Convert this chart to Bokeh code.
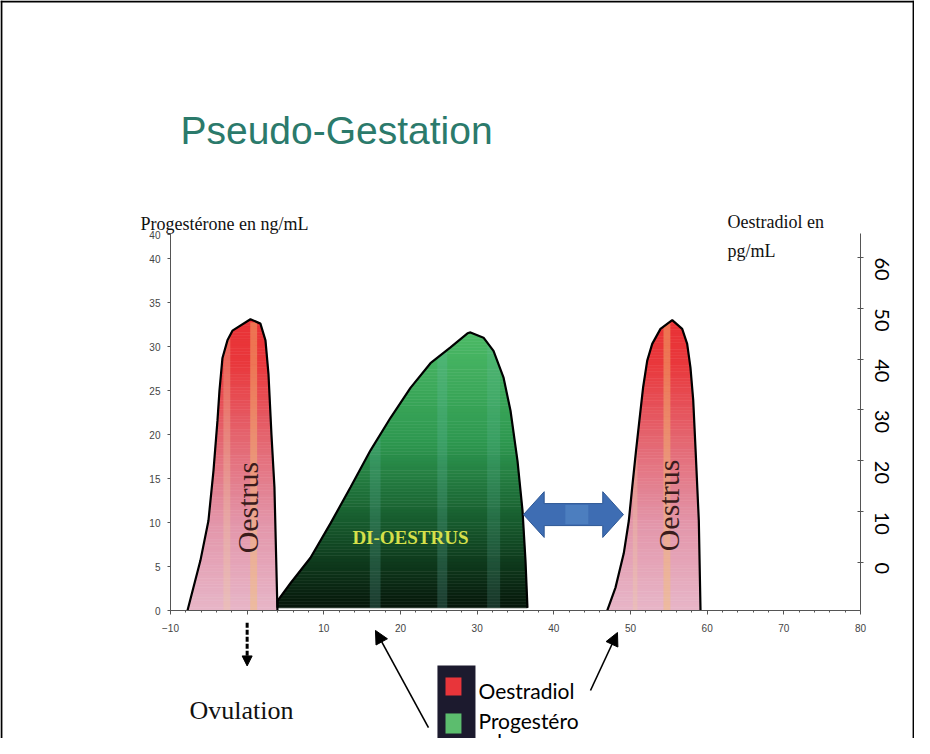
import math
import numpy as np
from bokeh.plotting import figure
from bokeh.models import Range1d, LinearAxis, FixedTicker, Arrow, NormalHead, Span
from bokeh.core.properties import value
from bokeh.embed import file_html
from bokeh.resources import INLINE

# ---------------- data ----------------
day_ticks = [-10, 0, 10, 20, 30, 40, 50, 60, 70, 80]
day_minor = list(range(-10, 81, 2))
prog_ticks = [0, 5, 10, 15, 20, 25, 30, 35, 40, 42.7]
prog_labels = {42.7: "40"}
oe_ticks = [0, 10, 20, 30, 40, 50, 60]

# Oestradiol peak 1 (outline, days / ng-scale of the left axis)
oe1_x = [-7.78, -6.09, -5.05, -4.39, -3.87, -3.61, -3.22, -2.57, -1.92, 0.43,
         1.73, 2.39, 2.78, 3.17, 3.56, 3.95]
oe1_y = [0.0, 5.7, 10.2, 15.9, 21.6, 25.0, 28.7, 30.7, 31.8, 33.1,
         32.6, 30.7, 26.9, 20.0, 14.0, 0.0]
# Oestradiol peak 2
oe2_x = [46.96, 48.04, 49.12, 49.78, 50.22, 50.70, 51.21, 51.65, 52.18, 52.83,
         53.91, 55.44, 56.74, 57.39, 57.82, 58.18, 58.50, 58.91, 59.13]
oe2_y = [0.0, 2.6, 6.5, 10.2, 14.0, 18.0, 22.0, 25.4, 28.4, 30.3,
         32.0, 33.0, 32.0, 30.3, 27.6, 23.9, 18.0, 10.2, 0.0]
# Progesterone (di-oestrus)
prog_x = [3.96, 3.96, 5.65, 8.26, 10.87, 13.48, 16.09, 18.70, 21.30, 23.91,
          26.52, 28.74, 29.13, 30.83, 32.13, 33.43, 34.35, 35.26, 35.91, 36.30, 36.56]
prog_y = [0.3, 1.1, 3.1, 6.0, 9.9, 14.0, 18.2, 21.9, 25.3, 28.1,
          29.9, 31.5, 31.6, 31.0, 29.5, 26.5, 22.7, 17.0, 11.4, 5.7, 0.3]

# ---------------- figure ----------------
W, H = 914, 738
X0, X1 = -32.17, 87.04
Y0, Y1 = -14.545, 69.318
p = figure(width=W, height=H, output_backend="svg", toolbar_location=None,
           x_range=Range1d(X0, X1), y_range=Range1d(Y0, Y1),
           min_border=0, background_fill_color="white", border_fill_color="white")
p.title.text = ""
p.extra_y_ranges = {"oe": Range1d(-34.63, 110.56)}
p.grid.visible = False
p.outline_line_color = None

SERIF = value("Liberation Serif")


def lerp_color(stops, t):
    for (t0, c0), (t1, c1) in zip(stops[:-1], stops[1:]):
        if t <= t1:
            f = 0 if t1 == t0 else (t - t0) / (t1 - t0)
            c = [int(round(a + (b - a) * f)) for a, b in zip(c0, c1)]
            return "#%02x%02x%02x" % tuple(c)
    return "#%02x%02x%02x" % tuple(stops[-1][1])


def gradient_fill(xs, ys, stops, n=90, stripes=()):
    xs = np.asarray(xs, float)
    ys = np.asarray(ys, float)
    k = int(np.argmax(ys))
    lx, ly = xs[:k + 1], ys[:k + 1]
    rx, ry = xs[k:][::-1], ys[k:][::-1]
    ymin, ymax = min(ly[0], ry[0]), ys[k]
    edges = np.linspace(ymin, ymax, n + 1)
    L = np.interp(edges, ly, lx)
    R = np.interp(edges, ry, rx)
    qx, qy, cols = [], [], []
    for i in range(n):
        qx.append([L[i], R[i], R[i + 1], L[i + 1]])
        qy.append([edges[i], edges[i], edges[i + 1], edges[i + 1]])
        cols.append(lerp_color(stops, (0.5 * (edges[i] + edges[i + 1]) - ymin) / (ymax - ymin)))
    p.patches(qx, qy, fill_color=cols, line_color=cols, line_width=0.6)
    for (s0, s1, col, a) in stripes:
        sx, sy = [], []
        for i in range(n):
            a0, a1 = max(L[i], s0), min(R[i], s1)
            b0, b1 = max(L[i + 1], s0), min(R[i + 1], s1)
            if a1 > a0 and b1 > b0:
                sx.append([a0, a1, b1, b0])
                sy.append([edges[i], edges[i], edges[i + 1], edges[i + 1]])
        if sx:
            p.patches(sx, sy, fill_color=col, fill_alpha=a, line_color=None)
    p.line(list(xs), list(ys), line_color="black", line_width=2.2)


red_stops = [(0.0, (231, 182, 200)), (0.3, (227, 150, 170)), (0.6, (228, 100, 110)),
             (0.85, (233, 56, 60)), (1.0, (233, 50, 54))]
green_stops = [(0.0, (6, 22, 10)), (0.3, (22, 88, 44)), (0.6, (46, 152, 80)),
               (1.0, (76, 186, 102))]

gradient_fill(oe1_x, oe1_y, red_stops,
              stripes=[(0.4, 1.3, "#f4c070", 0.45), (-3.1, -2.2, "#f2d0a0", 0.3)])
gradient_fill(oe2_x, oe2_y, red_stops,
              stripes=[(54.3, 55.2, "#f4c070", 0.45), (50.3, 50.9, "#f2d0a0", 0.3)])
gradient_fill(prog_x, prog_y, green_stops,
              stripes=[(16.0, 17.4, "#6fc0b8", 0.22), (24.8, 26.1, "#6fc0b8", 0.22),
                       (31.3, 33.0, "#6fc0b8", 0.18)])

# blue double arrow
ax0, ax1, ayc, ahl, ahh, ash = 36.04, 49.08, 10.9, 2.7, 2.6, 1.25
bx = [ax0, ax0 + ahl, ax0 + ahl, ax1 - ahl, ax1 - ahl, ax1, ax1 - ahl, ax1 - ahl, ax0 + ahl, ax0 + ahl]
by = [ayc, ayc + ahh, ayc + ash, ayc + ash, ayc + ahh, ayc, ayc - ahh, ayc - ash, ayc - ash, ayc - ahh]
p.patch(bx, by, fill_color="#3e6db3", line_color="#2d5795", line_width=1)
p.quad(left=[41.5], right=[44.5], bottom=[ayc - ash + 0.15], top=[ayc + ash - 0.15],
       fill_color="#5a8fcc", fill_alpha=0.5, line_color=None)

# ---------------- axes ----------------
xa = p.xaxis[0]
xa.fixed_location = 0
xa.bounds = (-10, 80)
xa.ticker = FixedTicker(ticks=day_ticks, minor_ticks=day_minor)
xa.major_label_overrides = {0: ""}
xa.axis_line_color = "#555555"
xa.major_tick_line_color = "#555555"
xa.minor_tick_line_color = "#555555"
xa.major_tick_in, xa.major_tick_out = 0, 4
xa.minor_tick_in, xa.minor_tick_out = 0, 2
xa.major_label_text_font = "Liberation Sans"
xa.major_label_text_font_size = "10px"
xa.major_label_text_color = "#444444"
xa.major_label_standoff = 9

ya = p.yaxis[0]
ya.fixed_location = -10
ya.bounds = (0, 42.8)
ya.ticker = FixedTicker(ticks=prog_ticks)
ya.major_label_overrides = prog_labels
ya.axis_line_color = "#555555"
ya.major_tick_line_color = "#555555"
ya.minor_tick_line_color = None
ya.major_tick_in, ya.major_tick_out = 0, 3
ya.major_label_text_font = "Liberation Sans"
ya.major_label_text_font_size = "10px"
ya.major_label_text_color = "#444444"
ya.major_label_standoff = 7

ra = LinearAxis(y_range_name="oe", fixed_location=80, bounds=(-9.44, 64.72),
                ticker=FixedTicker(ticks=oe_ticks))
ra.axis_line_color = "#555555"
ra.major_tick_line_color = "#555555"
ra.minor_tick_line_color = None
ra.major_tick_in, ra.major_tick_out = 3, 3
ra.major_label_orientation = -math.pi / 2
ra.major_label_text_font = "Lato"
ra.major_label_text_font_size = "20px"
ra.major_label_text_color = "black"
ra.major_label_standoff = 18
p.add_layout(ra, "right")

# ---------------- texts ----------------
p.text(x=[-8.70], y=[54.55], text=["Pseudo-Gestation"], text_font=value("Liberation Sans"),
       text_font_size="39px", text_color="#2b7a6b", text_baseline="alphabetic")
p.text(x=[-13.91], y=[43.9], text=["Progestérone en ng/mL"], text_font=SERIF,
       text_font_size="18px", text_color="#111111", text_baseline="alphabetic")
p.text(x=[62.65], y=[44.2], text=["Oestradiol en"], text_font=SERIF,
       text_font_size="18px", text_color="#111111", text_baseline="alphabetic")
p.text(x=[62.65], y=[40.9], text=["pg/mL"], text_font=SERIF,
       text_font_size="18px", text_color="#111111", text_baseline="alphabetic")
p.text(x=[0.04, 54.95], y=[11.7, 11.93], text=["Oestrus", "Oestrus"], angle=math.pi / 2,
       text_font=SERIF, text_font_size="30px", text_color="#3a1c1c",
       text_align="center", text_baseline="middle")
p.text(x=[21.3], y=[8.3], text=["DI-OESTRUS"], text_font=SERIF, text_font_style="bold",
       text_font_size="19px", text_color="#d6e04a", text_align="center", text_baseline="middle")
p.text(x=[-0.74], y=[-11.36], text=["Ovulation"], text_font=SERIF,
       text_font_size="26px", text_color="#111111", text_align="center", text_baseline="middle")

# ovulation arrow
p.add_layout(Arrow(end=NormalHead(size=10, fill_color="black", line_color="black"),
                   x_start=0, y_start=-1.4, x_end=0, y_end=-6.3,
                   line_width=3, line_color="black", line_dash="5 2"))

# pointer arrows
for (xs0, ys0, xe, ye) in [(23.65, -13.3, 16.74, -2.27), (44.78, -9.09, 48.30, -2.5)]:
    p.add_layout(Arrow(end=NormalHead(size=13, fill_color="black", line_color="black"),
                       x_start=xs0, y_start=ys0, x_end=xe, y_end=ye,
                       line_width=1.6, line_color="black"))

# legend-like box
p.quad(left=[24.82], right=[29.78], top=[-6.25], bottom=[-17.0],
       fill_color="#1c1a2e", line_color=None)
p.quad(left=[25.87, 25.87], right=[27.95, 27.95], top=[-7.61, -11.7], bottom=[-9.66, -13.98],
       fill_color=["#e8353a", "#5cbd6e"], line_color=None)
p.text(x=[30.17, 30.17, 30.17], y=[-9.09, -12.5, -14.9], text=["Oestradiol", "Progestéro", "nd"],
       text_font=value("Lato"), text_font_size="21px", text_color="black",
       text_baseline="middle")

# page border (left, top, right)
p.add_layout(Span(location=X0 + 0.12, dimension="height", line_color="black", line_width=2))
p.add_layout(Span(location=Y1 - 0.12, dimension="width", line_color="black", line_width=2))
p.add_layout(Span(location=X1 - 0.12, dimension="height", line_color="black", line_width=2))

open("out.html", "w").write(file_html(p, INLINE))
